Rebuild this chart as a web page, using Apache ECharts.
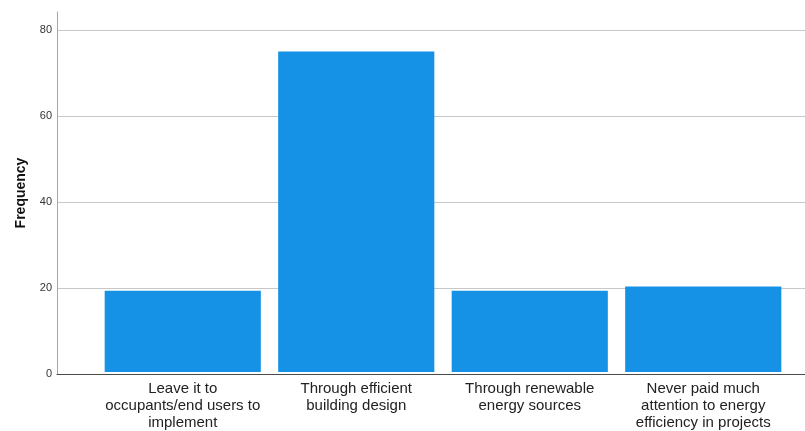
<!DOCTYPE html>
<html>
<head>
<meta charset="utf-8">
<script src="https://cdn.jsdelivr.net/npm/echarts@6/dist/echarts.min.js"></script>
<style>
  html, body { margin: 0; padding: 0; background: #fff; }
  #chart { width: 805px; height: 431px; }
</style>
</head>
<body>
<div id="chart"></div>
<script>
// Responses on how energy efficiency is handled
const categories = [
  'Leave it to\noccupants/end users to\nimplement',
  'Through efficient\nbuilding design',
  'Through renewable\nenergy sources',
  'Never paid much\nattention to energy\nefficiency in projects'
];
const frequencies = [19, 75, 19, 20];
const yTicks = [0, 20, 40, 60, 80];

const FONT = 'Liberation Sans, Arial, sans-serif';
const yMax = yTicks[yTicks.length - 1];
const yStep = yTicks[1] - yTicks[0];

const chart = echarts.init(document.getElementById('chart'), null, { renderer: 'canvas' });

chart.setOption({
  animation: false,
  backgroundColor: '#ffffff',
  grid: [
    // frame: y axis line reaching above the top tick, and the baseline
    { left: 57, right: 0, top: 12, bottom: 57, containLabel: false },
    // gridlines and tick labels
    { left: 57, right: 0, top: 30, bottom: 57, containLabel: false },
    // bars
    { left: 96, right: 15, top: 30, bottom: 57, containLabel: false }
  ],
  xAxis: [
    {
      gridIndex: 0, type: 'category', data: [''], z: 5,
      axisLine: { show: true, lineStyle: { color: '#4a4a4a', width: 1 } },
      axisTick: { show: false }, axisLabel: { show: false }, splitLine: { show: false }
    },
    {
      gridIndex: 1, type: 'category', data: [''],
      axisLine: { show: false }, axisTick: { show: false }, axisLabel: { show: false }
    },
    {
      gridIndex: 2, type: 'category', data: categories,
      axisLine: { show: false }, axisTick: { show: false },
      axisLabel: {
        show: true, interval: 0, margin: 8,
        color: '#222222', fontFamily: FONT, fontSize: 15, lineHeight: 17
      }
    }
  ],
  yAxis: [
    {
      gridIndex: 0, type: 'value', min: 0, max: 1, z: 5,
      axisLine: { show: true, lineStyle: { color: '#a6a6a6', width: 1 } },
      axisTick: { show: false }, axisLabel: { show: false }, splitLine: { show: false },
      name: 'Frequency', nameLocation: 'middle', nameGap: 29,
      nameTextStyle: { color: '#111111', fontFamily: FONT, fontSize: 14, fontWeight: 'bold' }
    },
    {
      gridIndex: 1, type: 'value', min: 0, max: yMax, interval: yStep,
      axisLine: { show: false }, axisTick: { show: false },
      axisLabel: { color: '#333333', fontFamily: FONT, fontSize: 11, margin: 5 },
      splitLine: { show: true, lineStyle: { color: '#c8c8c8', width: 1 } }
    },
    {
      gridIndex: 2, type: 'value', min: 0, max: yMax,
      axisLine: { show: false }, axisTick: { show: false }, axisLabel: { show: false },
      splitLine: { show: false }
    }
  ],
  series: [
    {
      type: 'bar',
      xAxisIndex: 2, yAxisIndex: 2,
      data: frequencies,
      barCategoryGap: '10%',
      itemStyle: { color: '#1591e6', borderWidth: 0 },
      emphasis: { disabled: true }
    }
  ]
});
</script>
</body>
</html>
